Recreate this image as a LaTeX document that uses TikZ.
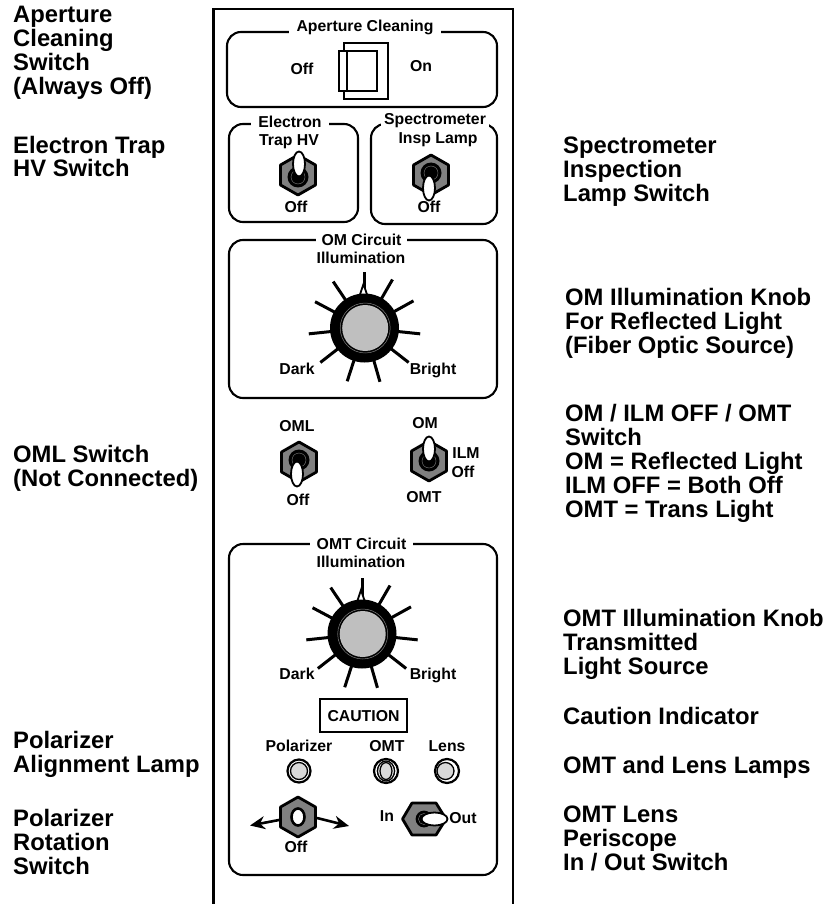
\documentclass[tikz,border=0pt]{standalone}
\usepackage{fontspec}
\setmainfont{Liberation Sans}
\usetikzlibrary{arrows.meta,shapes.geometric}
\definecolor{nutgray}{gray}{0.5}
\definecolor{knobgray}{gray}{0.75}
\definecolor{lampgray}{gray}{0.85}
\tikzset{
  sidelabel/.style={font=\fontsize{23.8}{24}\selectfont\bfseries,align=left,anchor=base west,inner sep=0pt},
  panellabel/.style={font=\fontsize{15.8}{18}\selectfont\bfseries,inner sep=0pt,text height=11.5pt,text depth=0pt},
  paneltitle/.style={panellabel,fill=white,inner ysep=2pt,inner xsep=6pt},
  panelbox/.style={draw,line width=2.1pt,rounded corners=14pt,inner sep=0pt},
  toggle/.style={ellipse,draw,fill=white,line width=1.8pt,inner sep=0pt},
  nutline/.style={draw=black,fill=nutgray,line width=2.8pt,line join=round},
  tick/.style={line width=3pt},
  lampring/.style={draw,fill=white,line width=2.2pt},
  lampface/.style={draw,fill=lampgray,line width=1.3pt},
  hexnut/.pic={
    \path[nutline] (0,-20) -- (17.5,-10) -- (17.5,10) -- (0,20) -- (-17.5,10) -- (-17.5,-10) -- cycle;
  },
  togglebase/.pic={
    \fill (0,0) circle (10.5);
    \draw[gray,line width=0.4pt] (0,0) circle (7);
  },
  dial/.pic={
    \foreach \a in {60,29,-6,-38,-74,-108,-142,-174,152,124,90}
      \draw[tick] (\a:30pt) -- (\a:56pt);
    \draw[line width=1.8pt,fill=white] (-5,-32) -- (-1,-44) -- (3,-32) -- cycle;
    \fill (0,0) circle (34.5);
    \draw[gray,line width=0.5pt] (0.7,0) circle (25);
    \fill[knobgray] (0.7,0) circle (23);
  },
}
\begin{document}
\begin{tikzpicture}[x=1pt,y=-1pt]
\useasboundingbox (0,0) rectangle (827,904);
% front panel, runs off the bottom of the page
\draw[line width=2.4pt] (213.5,904) -- (213.5,9) -- (513,9) -- (513,904);
% aperture cleaning
\node[panelbox,minimum width=270pt,minimum height=75pt] (apbox) at (362,69.5) {};
\node[paneltitle,inner xsep=7.5pt] (aptitle) at (365,26) {Aperture Cleaning};
\node[panellabel] (apoff) at (302,69) {Off};
\node[panellabel] (apon) at (421,66) {On};
\draw[line width=2pt] (344,43) rectangle (388,99);
\draw[line width=2pt,fill=white] (339,51) rectangle (377,91);
\draw[line width=2pt] (339,51) rectangle (347,91);
% electron trap
\node[panelbox,minimum width=129pt,minimum height=98pt] (trapbox) at (293.5,173) {};
\node[paneltitle,inner xsep=7pt] (traptitle) at (290,122) {Electron};
\node[panellabel] (traphv) at (289,140) {Trap HV};
\pic at (298,175) {hexnut};
\pic at (298,177) {togglebase};
\node[toggle,minimum width=12pt,minimum height=25pt] (traptoggle) at (299,164) {};
\node[panellabel] (trapoff) at (296,207) {Off};
% spectrometer lamp
\node[panelbox,minimum width=126pt,minimum height=100pt] (specbox) at (434,174) {};
\node[paneltitle,inner xsep=3pt] (spectitle) at (435,119) {Spectrometer};
\node[panellabel] (specinsp) at (438,138) {Insp Lamp};
\pic at (431,175) {hexnut};
\pic at (431,173) {togglebase};
\node[toggle,minimum width=12pt,minimum height=25pt] (spectoggle) at (429,188) {};
\node[panellabel] (specoff) at (429,207) {Off};
% OM circuit
\node[panelbox,minimum width=268pt,minimum height=158pt] (ombox) at (363,319) {};
\node[paneltitle] (omtitle) at (361.5,240) {OM Circuit};
\node[panellabel] (omillum) at (361,258) {Illumination};
\pic at (364.5,328) {dial};
\node[panellabel] (omdark) at (297,369) {Dark};
\node[panellabel] (ombright) at (433,369) {Bright};
% OML switch
\node[panellabel] (omllabel) at (297,426) {OML};
\pic at (299,462) {hexnut};
\pic at (299,460) {togglebase};
\node[toggle,minimum width=12pt,minimum height=25pt] (omltoggle) at (297,474) {};
\node[panellabel] (omloff) at (298,500) {Off};
% OM / ILM / OMT switch
\node[panellabel] (omsw) at (425,423) {OM};
\pic at (429,461) {hexnut};
\pic at (429,461) {togglebase};
\node[toggle,minimum width=12pt,minimum height=25pt] (omtoggle) at (429,449) {};
\node[panellabel] (ilm) at (466,453) {ILM};
\node[panellabel] (ilmoff) at (463,472) {Off};
\node[panellabel] (omtsw) at (424,497) {OMT};
% OMT circuit
\node[panelbox,minimum width=268pt,minimum height=331pt] (omtbox) at (363,709.5) {};
\node[paneltitle,inner xsep=6.5pt] (omttitle) at (361.5,544) {OMT Circuit};
\node[panellabel] (omtillum) at (361,562) {Illumination};
\pic at (362,634) {dial};
\node[panellabel] (omtdark) at (297,674) {Dark};
\node[panellabel] (omtbright) at (433,674) {Bright};
% caution indicator
\node[panellabel,draw,line width=2pt,minimum width=87pt,minimum height=33pt,text height=11pt] (caution) at (363.5,715.5) {CAUTION};
% lamps
\node[panellabel] (pollabel) at (299,746) {Polarizer};
\node[panellabel] (omtlabel) at (387,746) {OMT};
\node[panellabel] (lenslabel) at (447,746) {Lens};
\draw[lampring] (299,771) circle (11.5);
\draw[lampface] (299,771) circle (8.5);
\draw[lampring] (386,771) circle (12);
\draw[lampface] (386,771) circle (8.5);
\draw[line width=1.3pt,fill=white] (386,771) ellipse (8.5 and 10);
\draw[lampface] (386,771) ellipse (6 and 8.5);
\draw[lampring] (447,771) circle (12);
\draw[lampface] (445.5,771) circle (8.5);
% polarizer rotation switch
\coordinate (polnutW) at (279,820);
\coordinate (polnutE) at (317,818);
\coordinate (polarrowW) at (250,825.5);
\coordinate (polarrowE) at (349,826);
\draw[line width=2.6pt,-{Stealth[length=15pt,width=13pt]}] (polnutW) -- (polarrowW);
\draw[line width=2.6pt,-{Stealth[length=15pt,width=13pt]}] (polnutE) -- (polarrowE);
\pic at (298,817) {hexnut};
\node[toggle,line width=2.6pt,minimum width=13pt,minimum height=17pt] (poltoggle) at (298,817) {};
\node[panellabel] (poloff) at (296,847) {Off};
% lens in / out switch
\node[panellabel] (lensin) at (387,816) {In};
\path[nutline] (402.5,819) -- (412,803) -- (436,803) -- (446,819) -- (436,835) -- (412,835) -- cycle;
\pic[scale=0.8] at (424,819) {togglebase};
\node[toggle,minimum width=26pt,minimum height=13pt] (lenstoggle) at (434.5,819) {};
\node[panellabel] (lensout) at (463,818) {Out};
% labels on the left
\node[sidelabel] (apside) at (13,95) {Aperture\\Cleaning\\Switch\\(Always Off)};
\node[sidelabel] (trapside) at (13,177) {Electron Trap\\HV Switch};
\node[sidelabel] (omlside) at (13,486) {OML Switch\\(Not Connected)};
\node[sidelabel] (alignside) at (13,772) {Polarizer\\Alignment Lamp};
\node[sidelabel] (rotside) at (13,874) {Polarizer\\Rotation\\Switch};
% labels on the right
\node[sidelabel] (specside) at (563,201) {Spectrometer\\Inspection\\Lamp Switch};
\node[sidelabel] (omside) at (565,353) {OM Illumination Knob\\For Reflected Light\\(Fiber Optic Source)};
\node[sidelabel] (omswside) at (565,517) {OM / ILM OFF / OMT\\Switch\\OM = Reflected Light\\ILM OFF = Both Off\\OMT = Trans Light};
\node[sidelabel] (omtside) at (563,674) {OMT Illumination Knob\\Transmitted\\Light Source};
\node[sidelabel] (cautionside) at (563,724) {Caution Indicator};
\node[sidelabel] (lampside) at (563,773) {OMT and Lens Lamps};
\node[sidelabel] (lensside) at (563,870) {OMT Lens\\Periscope\\In / Out Switch};
\end{tikzpicture}
\end{document}
